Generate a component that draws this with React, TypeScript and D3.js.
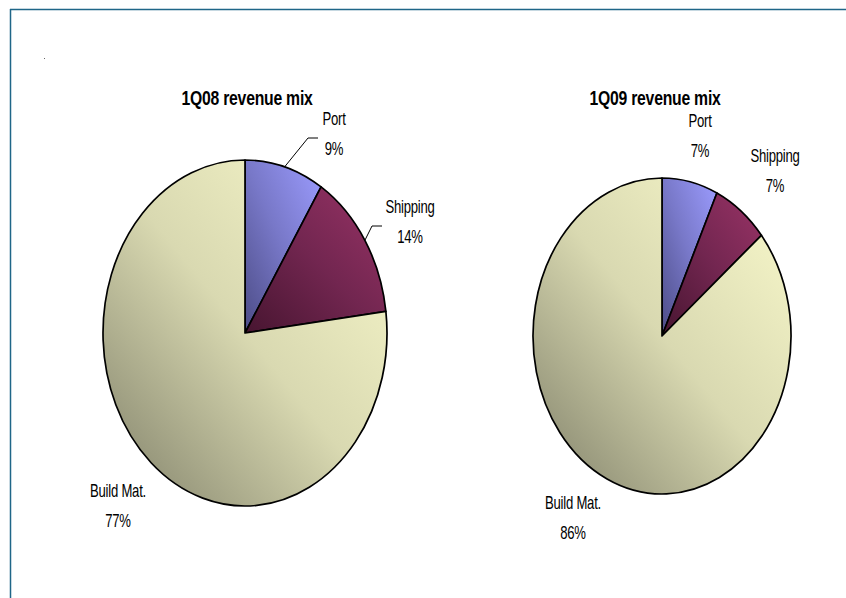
import React from 'react';
import * as d3 from 'd3';

const categories = ['Port', 'Shipping', 'Build Mat.'];
const share1Q08 = [9, 14, 77];
const share1Q09 = [7, 7, 86];
const titles = ['1Q08 revenue mix', '1Q09 revenue mix'];

const lightColors = ['#9c9cff', '#993366', '#fafacc'];
const midColors = ['#7878c8', '#722650', '#d9d9b1'];
const darkColors = ['#4c4c86', '#471530', '#7e7e68'];

const W = 846, H = 598;
const font = "'Liberation Sans', Arial, sans-serif";
const squeeze = 0.75; // the original uses a narrow face

// where each pie sits, and where its labels go (offsets from the pie centre)
const layout = [
  { cx: 245, cy: 333, rx: 142, ry: 173, titleDx: 2, titleY: 105,
    labels: [[89, -208], [165, -120], [-127, 164]],
    leaders: [-16, -28, null] },
  { cx: 662, cy: 336, rx: 129, ry: 158, titleDx: -7, titleY: 105,
    labels: [[38, -209], [113, -174], [-89, 173]],
    leaders: [null, null, null] },
];

const fmt = (v: number) => `${v}%`;

function Narrow({ x, y, size, children }: { x: number; y: number; size: number; children: React.ReactNode }) {
  return (
    <text transform={`translate(${x},${y}) scale(${squeeze},1)`} textAnchor="middle"
          fontFamily={font} fontSize={size} fill="#000" letterSpacing={-0.3}>
      {children}
    </text>
  );
}

function Pie({ idx, values }: { idx: number; values: number[] }) {
  const L = layout[idx];
  const arcs = d3.pie<number>().sort(null).value(d => d)(values);
  const arc = d3.arc<d3.PieArcDatum<number>>().innerRadius(0).outerRadius(L.ry);
  const onEdge = (a: number) => [L.cx + L.rx * Math.sin(a), L.cy - L.ry * Math.cos(a)];

  return (
    <g>
      <defs>
        {categories.map((c, i) => (
          <linearGradient key={c} id={`g${idx}-${i}`} x1="1" y1="0" x2="0" y2="1">
            <stop offset="0" stopColor={lightColors[i]} />
            <stop offset="0.5" stopColor={midColors[i]} />
            <stop offset="1" stopColor={darkColors[i]} />
          </linearGradient>
        ))}
      </defs>
      <Narrow x={L.cx + L.titleDx} y={L.titleY} size={21}>
        <tspan fontWeight="bold">{titles[idx]}</tspan>
      </Narrow>
      <g transform={`translate(${L.cx},${L.cy}) scale(${L.rx / L.ry},1)`}>
        {arcs.map((a, i) => (
          <path key={i} d={arc(a) || ''} fill={`url(#g${idx}-${i})`}
                stroke="#000" strokeWidth={1.7} vectorEffect="non-scaling-stroke"
                strokeLinejoin="round" />
        ))}
      </g>
      {arcs.map((a, i) => {
        const [dx, dy] = L.labels[i];
        const lx = L.cx + dx, ly = L.cy + dy;
        const lead = L.leaders[i];
        let leader = null;
        if (lead !== null) {
          const [sx, sy] = onEdge((a.startAngle + a.endAngle) / 2);
          const ex = lx + lead, ey = ly + 13;
          leader = <polyline points={`${sx},${sy} ${ex - 10},${ey} ${ex},${ey}`}
                             fill="none" stroke="#000" strokeWidth={1} />;
        }
        return (
          <g key={i}>
            {leader}
            <Narrow x={lx} y={ly} size={17.5}>{categories[i]}</Narrow>
            <Narrow x={lx} y={ly + 30} size={17.5}>{fmt(values[i])}</Narrow>
          </g>
        );
      })}
    </g>
  );
}

export default function App() {
  return (
    <svg width={W} height={H} style={{ position: 'absolute', left: 0, top: 0, background: '#fff' }}>
      <line x1={10} y1={9.5} x2={W} y2={9.5} stroke="#1f6688" strokeWidth={1.5} />
      <line x1={10.5} y1={9} x2={10.5} y2={H} stroke="#1f6688" strokeWidth={1.5} />
      <rect x={44} y={58} width={1} height={1} fill="#666" />
      <Pie idx={0} values={share1Q08} />
      <Pie idx={1} values={share1Q09} />
    </svg>
  );
}
